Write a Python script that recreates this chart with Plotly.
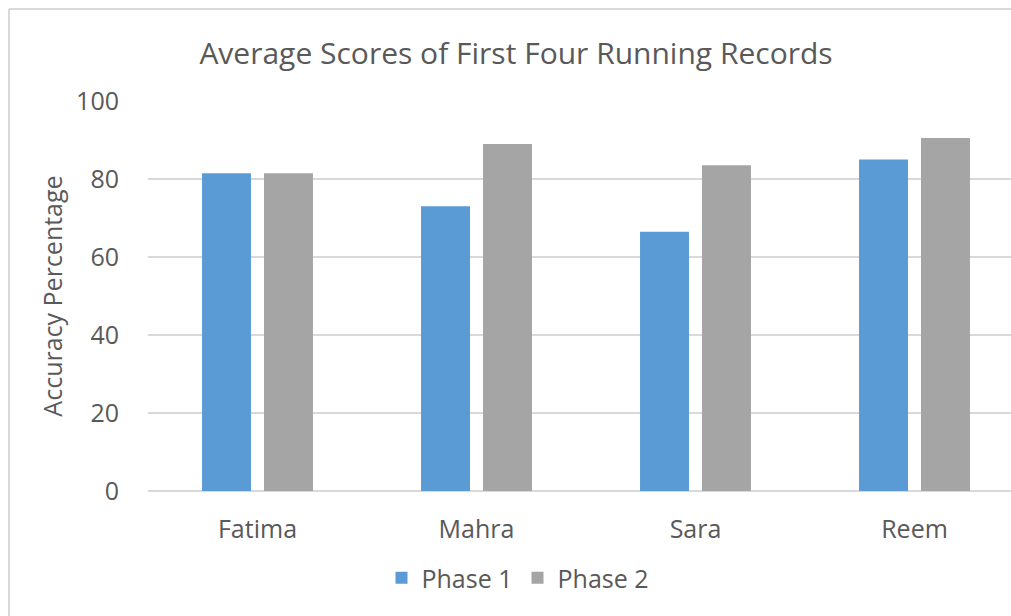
import plotly.graph_objects as go

categories = ["Fatima", "Mahra", "Sara", "Reem"]
phase1 = [81.5, 73.0, 66.5, 85.0]
phase2 = [81.5, 89.0, 83.5, 90.5]
y_ticks = [0, 20, 40, 60, 80, 100]

FONT = "Open Sans"
TXT = "#595959"
GRID = "#d9d9d9"

W, H = 1011, 616
L, R, T, B = 148, 0, 101, 125
pw = W - L - R
ph = H - T - B

fig = go.Figure()
fig.add_trace(go.Bar(x=categories, y=phase1, name="Phase 1",
                     marker=dict(color="#5B9BD5", line=dict(width=0))))
fig.add_trace(go.Bar(x=categories, y=phase2, name="Phase 2",
                     marker=dict(color="#A5A5A5", line=dict(width=0))))

step = 219.0
x_end = 3.5 - (L + 4 * step - W) / step

bx = (9 - L) / pw
by = (H - B - 9) / ph
fig.add_shape(type="line", xref="paper", yref="paper", x0=bx, x1=bx, y0=-0.5, y1=by,
              line=dict(color=GRID, width=2))
fig.add_shape(type="line", xref="paper", yref="paper", x0=bx, x1=1.2, y0=by, y1=by,
              line=dict(color=GRID, width=2))

fig.update_layout(
    width=W, height=H,
    margin=dict(l=L, r=R, t=T, b=B, autoexpand=False),
    paper_bgcolor="white", plot_bgcolor="white",
    font=dict(family=FONT, color=TXT, size=25),
    title=dict(text="Average Scores of First Four Running Records",
               x=516 / W, xanchor="center", y=1 - 53 / H, yanchor="middle",
               font=dict(size=30, color=TXT, family=FONT)),
    barmode="group", bargap=0.434, bargroupgap=0.21,
    showlegend=True,
    legend=dict(orientation="h", x=(518 - L) / pw, xanchor="center",
                y=-(578 - (H - B)) / ph, yanchor="middle",
                font=dict(size=25, color=TXT), itemwidth=30, traceorder="normal"),
    xaxis=dict(range=[-0.5, x_end], showgrid=False, showline=False, zeroline=False,
               ticks="", tickfont=dict(size=25, color=TXT), ticklabelstandoff=21),
    yaxis=dict(range=[0, 100], tickvals=y_ticks, showgrid=True, gridcolor=GRID,
               gridwidth=2, zeroline=True, zerolinecolor=GRID, zerolinewidth=2,
               showline=False, ticks="", tickfont=dict(size=25, color=TXT),
               ticklabelstandoff=28,
               title=dict(text="Accuracy Percentage", font=dict(size=25, color=TXT),
                          standoff=6)),
)

fig.write_html(
    "out.html",
    config={"displayModeBar": False},
    post_script="document.body.style.margin='0';document.body.style.overflow='hidden';",
)
